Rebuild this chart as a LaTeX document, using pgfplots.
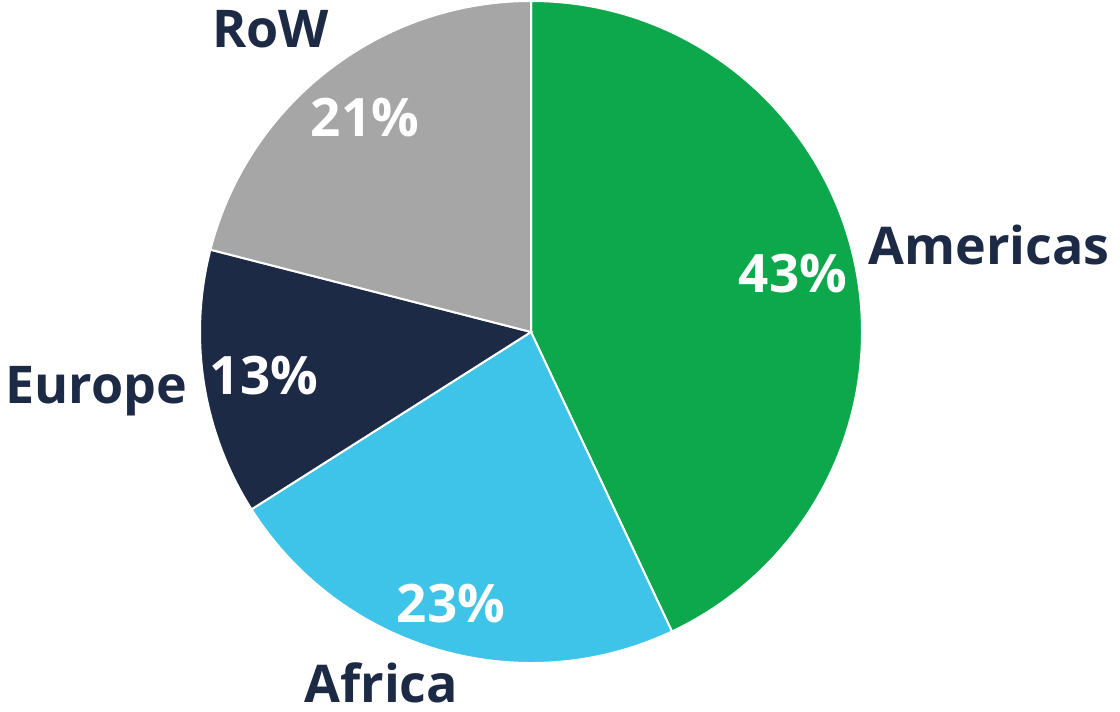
\documentclass[border=0pt]{standalone}
\usepackage{pgfplots}
\usepackage{pgfplotstable}
\pgfplotsset{compat=1.18}
\usepackage{fontspec}
\setmainfont{Open Sans}
\definecolor{cAm}{HTML}{0CA84B}
\definecolor{cAf}{HTML}{3DC4E8}
\definecolor{cEu}{HTML}{1D2A45}
\definecolor{cRo}{HTML}{A6A6A6}
\definecolor{txt}{HTML}{1D2A45}

\pgfplotstableread{
label value
Americas 43
Africa 23
Europe 13
RoW 21
}\piedata

\begin{document}
\begin{tikzpicture}
\pgfplotstablegetelem{0}{value}\of\piedata \pgfmathtruncatemacro{\vA}{\pgfplotsretval}
\pgfplotstablegetelem{1}{value}\of\piedata \pgfmathtruncatemacro{\vB}{\pgfplotsretval}
\pgfplotstablegetelem{2}{value}\of\piedata \pgfmathtruncatemacro{\vC}{\pgfplotsretval}
\pgfplotstablegetelem{3}{value}\of\piedata \pgfmathtruncatemacro{\vD}{\pgfplotsretval}
\pgfmathsetmacro{\aS}{90}
\pgfmathsetmacro{\aA}{90-3.6*\vA}
\pgfmathsetmacro{\aB}{\aA-3.6*\vB}
\pgfmathsetmacro{\aC}{\aB-3.6*\vC}
\pgfmathsetmacro{\aD}{\aC-3.6*\vD}
\def\R{165.5pt}
\begin{axis}[name=ax, hide axis, scale only axis, width=560pt, height=356pt,
  xmin=0, xmax=1120, ymin=0, ymax=712, clip=false]
\fill[cAm, draw=white, line width=1pt] (axis cs:531,380) -- ++(\aS:\R) arc[start angle=\aS, end angle=\aA, radius=\R] -- cycle;
\fill[cAf, draw=white, line width=1pt] (axis cs:531,380) -- ++(\aA:\R) arc[start angle=\aA, end angle=\aB, radius=\R] -- cycle;
\fill[cEu, draw=white, line width=1pt] (axis cs:531,380) -- ++(\aB:\R) arc[start angle=\aB, end angle=\aC, radius=\R] -- cycle;
\fill[cRo, draw=white, line width=1pt] (axis cs:531,380) -- ++(\aC:\R) arc[start angle=\aC, end angle=\aD, radius=\R] -- cycle;
\tikzset{pct/.style={text=white, font=\fontsize{26.5}{32}\selectfont\bfseries, anchor=base, inner sep=0pt},
  lab/.style={text=txt, font=\fontsize{26}{32}\selectfont\bfseries, anchor=base west, inner sep=0pt}}
\node[pct] at (axis cs:793,419) {\vA\%};
\node[pct] at (axis cs:451,89) {\vB\%};
\node[pct] at (axis cs:264,317) {\vC\%};
\node[pct] at (axis cs:365,575) {\vD\%};
\node[lab] at (axis cs:868,447) {Americas};
\node[lab] at (axis cs:304,9) {Africa};
\node[lab] at (axis cs:5,308) {Europe};
\node[lab] at (axis cs:212,664) {RoW};
\end{axis}
\pgfresetboundingbox
\path[use as bounding box] (ax.south west) rectangle (ax.north east);
\end{tikzpicture}
\end{document}
